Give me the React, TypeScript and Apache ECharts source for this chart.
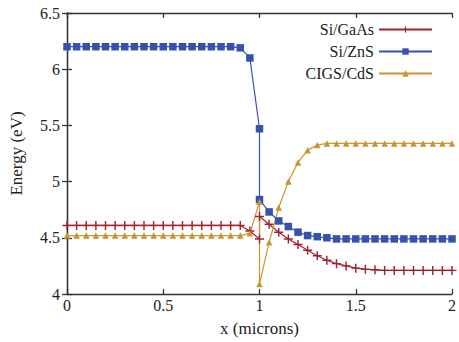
import React, { useEffect, useRef } from "react";
import * as echarts from "echarts";

const xs = [
  0, 0.05, 0.1, 0.15, 0.2, 0.25, 0.3, 0.35, 0.4, 0.45, 0.5, 0.55, 0.6, 0.65, 0.7, 0.75, 0.8, 0.85, 0.9, 0.95,
  1, 1,
  1.05, 1.1, 1.15, 1.2, 1.25, 1.3, 1.35, 1.4, 1.45, 1.5, 1.55, 1.6, 1.65, 1.7, 1.75, 1.8, 1.85, 1.9, 1.95, 2,
];

const siGaAs = [
  4.61, 4.61, 4.61, 4.61, 4.61, 4.61, 4.61, 4.61, 4.61, 4.61, 4.61, 4.61, 4.61, 4.61, 4.61, 4.61, 4.61, 4.61, 4.61, 4.56,
  4.49, 4.69,
  4.62, 4.55, 4.49, 4.44, 4.39, 4.34, 4.3, 4.27, 4.25, 4.23, 4.22, 4.215, 4.21, 4.21, 4.21, 4.21, 4.21, 4.21, 4.21, 4.21,
];

const siZnS = [
  6.2, 6.2, 6.2, 6.2, 6.2, 6.2, 6.2, 6.2, 6.2, 6.2, 6.2, 6.2, 6.2, 6.2, 6.2, 6.2, 6.2, 6.2, 6.19, 6.1,
  5.47, 4.84,
  4.73, 4.65, 4.6, 4.55, 4.52, 4.51, 4.5, 4.49, 4.49, 4.49, 4.49, 4.49, 4.49, 4.49, 4.49, 4.49, 4.49, 4.49, 4.49, 4.49,
];

const cigsCdS = [
  4.52, 4.52, 4.52, 4.52, 4.52, 4.52, 4.52, 4.52, 4.52, 4.52, 4.52, 4.52, 4.52, 4.52, 4.52, 4.52, 4.52, 4.52, 4.52, 4.54,
  4.82, 4.09,
  4.46, 4.77, 5.0, 5.17, 5.28, 5.325, 5.34, 5.34, 5.34, 5.34, 5.34, 5.34, 5.34, 5.34, 5.34, 5.34, 5.34, 5.34, 5.34, 5.34,
];

const seriesNames = ["Si/GaAs", "Si/ZnS", "CIGS/CdS"];
const colors = ["#a3222e", "#3652ad", "#c9952f"];

const FONT = "Liberation Serif";
const TEXT = "#222";
const AXIS = "#333";

const plusPath = "path://M4.2,0H5.8V4.2H10V5.8H5.8V10H4.2V5.8H0V4.2H4.2Z";

export default function App() {
  const ref = useRef<HTMLDivElement>(null);
  useEffect(() => {
    if (!ref.current) return;
    const chart = echarts.init(ref.current, null, { renderer: "svg" });
    const pairs = (ys: number[]) => xs.map((x, i) => [x, ys[i]]);
    const axisCommon = {
      axisLine: { show: true, lineStyle: { color: AXIS, width: 1.3 } },
      axisTick: { show: true, inside: true, length: 5, lineStyle: { color: AXIS, width: 1.3 } },
      splitLine: { show: false },
    };
    chart.setOption({
      animation: false,
      backgroundColor: "#fff",
      grid: { left: 62, right: 5, top: 13, bottom: 47 },
      legend: {
        orient: "vertical",
        right: 26,
        top: 21,
        padding: 0,
        align: "right",
        itemWidth: 53,
        itemHeight: 8,
        itemGap: 5,
        textStyle: { fontFamily: FONT, fontSize: 16, color: TEXT, lineHeight: 17 },
        data: seriesNames,
      },
      xAxis: [
        {
          type: "value",
          min: 0,
          max: 2,
          interval: 0.5,
          name: "x (microns)",
          nameLocation: "middle",
          nameGap: 26,
          nameTextStyle: { fontFamily: FONT, fontSize: 17, color: TEXT },
          axisLabel: { fontFamily: FONT, fontSize: 16, color: TEXT, margin: 3 },
          ...axisCommon,
        },
        {
          type: "value",
          position: "top",
          min: 0,
          max: 2,
          interval: 0.5,
          axisLabel: { show: false },
          ...axisCommon,
        },
      ],
      yAxis: [
        {
          type: "value",
          min: 4,
          max: 6.5,
          interval: 0.5,
          name: "Energy (eV)",
          nameLocation: "middle",
          nameGap: 42,
          nameTextStyle: { fontFamily: FONT, fontSize: 17, color: TEXT },
          axisLabel: { fontFamily: FONT, fontSize: 16, color: TEXT, margin: 7 },
          ...axisCommon,
        },
        {
          type: "value",
          position: "right",
          min: 4,
          max: 6.5,
          interval: 0.5,
          axisLabel: { show: false },
          ...axisCommon,
        },
      ],
      series: [
        {
          name: seriesNames[0],
          type: "line",
          data: pairs(siGaAs),
          symbol: plusPath,
          symbolSize: 9,
          lineStyle: { color: colors[0], width: 1.2 },
          itemStyle: { color: colors[0] },
        },
        {
          name: seriesNames[1],
          type: "line",
          data: pairs(siZnS),
          symbol: "rect",
          symbolSize: 7.5,
          lineStyle: { color: colors[1], width: 1.2 },
          itemStyle: { color: colors[1] },
        },
        {
          name: seriesNames[2],
          type: "line",
          data: pairs(cigsCdS),
          symbol: "triangle",
          symbolSize: 6.5,
          lineStyle: { color: colors[2], width: 1.2 },
          itemStyle: { color: colors[2] },
        },
      ],
    });
    return () => chart.dispose();
  }, []);
  return <div ref={ref} style={{ width: 459, height: 342, position: "absolute", left: 0, top: 0 }} />;
}
